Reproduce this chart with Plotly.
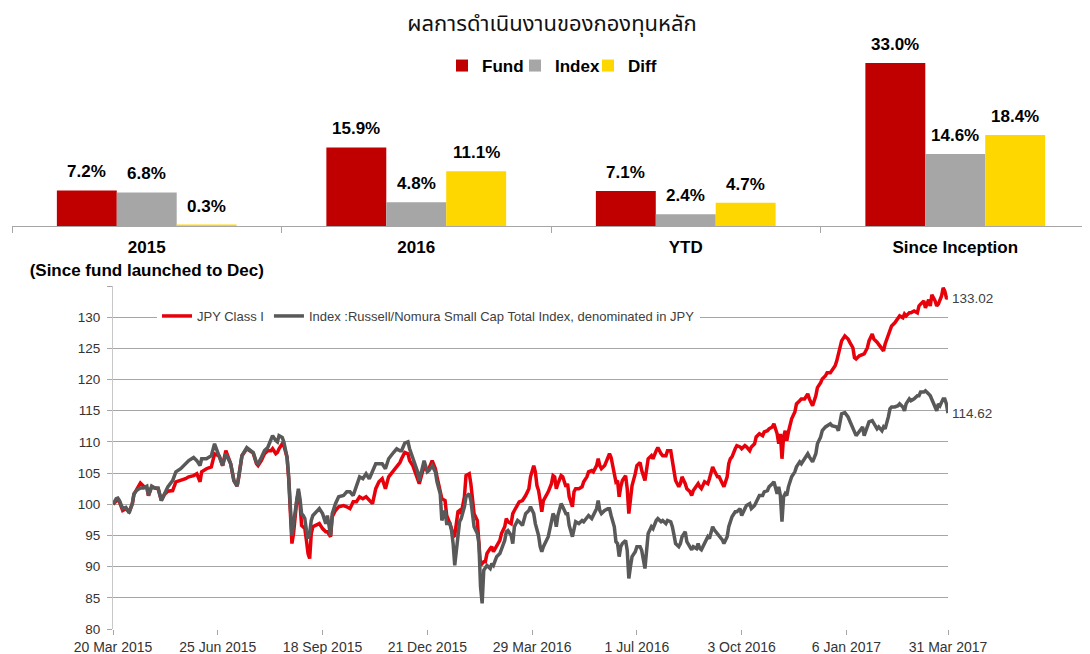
import plotly.graph_objects as go

# ---------------- bar chart data ----------------
periods = ["2015<br>(Since fund launched to Dec)", "2016", "YTD", "Since Inception"]
fund_ret = [7.2, 15.9, 7.1, 33.0]
index_ret = [6.8, 4.8, 2.4, 14.6]
diff_ret = [0.3, 11.1, 4.7, 18.4]

# ---------------- line chart data (trading-day index) ----------------
day = [0, 2, 3, 4, 6, 8, 10, 12, 13, 15, 17, 19, 21, 22, 24, 26, 28, 30, 32, 34,
       37, 39, 42, 45, 47, 50, 52, 54, 55, 58, 61, 63, 66, 68, 70, 73, 75, 77, 78, 80,
       83, 85, 87, 89, 90, 92, 94, 96, 98, 99, 101, 102, 103, 105, 106, 108, 109, 110, 111, 112,
       113, 114, 115, 116, 117, 118, 119, 120, 121, 122, 123, 124, 126, 128, 130, 132, 133, 135, 136, 138,
       140, 143, 145, 147, 149, 151, 153, 155, 157, 159, 161, 163, 165,
       167, 169, 171, 174, 176, 178, 179, 181, 183, 184, 186, 188, 189, 190, 192, 193, 195, 196, 198, 200,
       201, 203, 204, 206, 207, 209, 210, 211, 212, 214, 215, 216, 218, 219, 221, 222, 223, 224, 226, 227,
       228, 229, 230, 231, 232, 234, 235, 236, 238, 240, 241, 243, 244, 245, 247, 248, 249, 251, 252,
       254, 256, 258, 259, 261, 262, 263, 264, 265, 266, 267, 269, 270, 272, 273, 274, 275, 276, 277, 278,
       279, 281, 282, 283, 285, 286, 287, 289, 291, 292, 294, 295, 297, 298, 300, 301, 302, 303, 305, 307,
       308, 309, 311, 312, 313, 314, 315, 316, 318, 319, 320, 321, 322, 324, 325, 327, 328, 330, 331, 332,
       334, 335, 337, 338, 340,
       341, 343, 344, 346, 347, 348, 349, 351, 352, 353, 355, 356, 358, 359, 360, 362, 363, 364, 365, 367,
       369, 370, 372, 373, 375, 376, 378, 379, 381, 382, 383, 384, 386, 387, 389, 390, 392, 393, 395, 396,
       398, 399, 401, 403, 404, 406, 407, 409, 410, 412, 413, 414, 415, 416, 417, 418, 419, 421, 423, 424,
       426,
       427, 429, 431, 432, 434, 436, 437, 439, 440, 442, 443, 445, 446, 448, 449, 450, 451, 452, 454, 456,
       457, 459, 460, 461, 463, 465, 466, 468, 469, 471, 472, 474, 475, 477, 478, 479, 481, 482, 483, 485,
       487, 488, 490, 491, 492, 494, 495, 497, 499, 500, 501, 503, 504, 505, 506, 507, 508, 510, 511, 512,
       513, 514, 515, 516, 517, 518]

jpy_class_i = [
    100.0, 100.6, 100.8, 100.4, 99.0, 99.3, 98.8, 100.1, 101.6, 102.5, 103.4, 102.9, 102.6, 101.4, 102.8, 102.6, 102.5, 100.6, 101.6, 102.1,
    102.2, 103.6, 103.8, 104.1, 104.4, 104.6, 104.9, 103.6, 105.2, 105.7, 106.0, 108.1, 107.7, 106.2, 108.6, 106.5, 103.8, 102.9, 104.4, 107.8,
    108.9, 108.6, 108.2, 106.5, 106.2, 107.0, 108.1, 108.6, 108.6, 108.9, 108.1, 108.3, 108.9, 109.7, 109.4, 107.5, 104.1, 98.8, 93.7, 95.3,
    98.2, 100.6, 102.0, 100.1, 96.6, 96.4, 96.1, 94.2, 92.1, 91.3, 95.3, 96.4, 96.6, 96.9, 96.1, 95.6, 95.6, 94.8, 98.0, 99.0,
    99.6, 99.8, 99.6, 99.3, 100.4, 100.4, 101.2, 100.9, 101.2, 100.6, 100.1, 102.5, 103.6,
    104.1, 102.5, 104.4, 105.4, 106.2, 106.7, 107.3, 108.3, 108.1, 107.0, 106.2, 104.6, 104.1, 103.3, 105.2, 106.0, 105.4, 105.7, 107.0, 105.7,
    104.4, 102.2, 100.9, 100.6, 98.2, 96.9, 96.1, 94.8, 95.0, 98.8, 99.0, 98.5, 101.2, 104.6, 104.9, 103.3, 100.1, 98.5, 97.4, 94.2,
    90.2, 90.5, 90.8, 90.8, 92.1, 92.9, 93.2, 92.4, 93.4, 94.2, 95.3, 96.4, 97.7, 97.2, 96.9, 98.5, 99.0, 100.1, 100.4,
    100.6, 101.4, 102.5, 104.4, 106.2, 105.2, 103.0, 102.2, 100.6, 98.8, 100.6, 101.4, 102.0, 103.3, 104.6, 104.4, 102.5, 103.3, 103.8, 104.6,
    104.4, 102.8, 103.3, 101.2, 99.6, 102.0, 102.5, 102.5, 102.8, 103.6, 104.4, 105.2, 105.4, 105.2, 106.2, 107.3, 106.2, 105.7, 106.2, 107.3,
    108.1, 107.5, 104.9, 103.6, 103.8, 101.2, 102.8, 103.8, 104.6, 102.5, 98.5, 100.6, 103.0, 104.9, 106.2, 106.7, 105.4, 103.8, 105.4, 107.3,
    107.8, 107.3, 108.6, 109.1, 108.1,
    107.8, 107.8, 108.6, 108.6, 107.3, 105.4, 103.8, 102.8, 103.3, 104.4, 103.3, 102.5, 102.0, 101.4, 102.2, 103.0, 103.3, 102.8, 102.5, 103.6,
    103.3, 104.1, 106.0, 105.4, 104.4, 104.4, 103.3, 102.8, 104.4, 106.5, 107.3, 107.6, 108.9, 109.4, 109.2, 108.9, 109.4, 109.2, 108.6, 109.2,
    109.7, 110.8, 111.3, 111.0, 111.6, 111.8, 112.1, 112.4, 112.9, 111.3, 109.7, 111.3, 107.3, 110.8, 111.8, 110.2, 111.6, 113.7, 114.8, 116.1,
    116.6,
    116.9, 116.9, 117.7, 116.9, 115.8, 117.4, 118.7, 119.5, 120.1, 120.6, 121.1, 121.1, 121.4, 122.2, 123.0, 124.3, 125.4, 126.2, 127.0, 126.5,
    126.0, 125.1, 123.5, 123.3, 123.8, 124.1, 124.1, 125.1, 126.2, 127.3, 126.5, 126.0, 125.7, 125.1, 124.6, 125.7, 127.3, 128.1, 128.6, 129.1,
    129.7, 130.2, 129.9, 130.5, 130.2, 130.7, 130.7, 131.0, 130.7, 131.8, 132.1, 132.6, 131.5, 132.1, 132.8, 131.8, 133.6, 132.6, 131.8, 132.1,
    132.8, 133.4, 134.7, 134.2, 133.1, 133.02]

russell_nomura = [
    100.0, 100.9, 101.0, 100.6, 99.3, 99.5, 98.6, 100.1, 101.7, 102.3, 102.6, 102.6, 102.9, 101.4, 102.9, 102.6, 102.6, 100.6, 101.7, 102.8,
    103.8, 105.2, 105.7, 106.5, 107.0, 107.5, 107.0, 106.2, 107.3, 107.3, 107.8, 109.7, 107.8, 106.2, 108.1, 106.5, 103.8, 102.9, 104.4, 107.8,
    109.1, 108.7, 108.3, 106.7, 106.5, 107.5, 108.6, 109.1, 110.2, 111.0, 110.2, 110.0, 111.0, 110.7, 110.0, 107.5, 104.4, 99.0, 95.0, 96.9,
    99.0, 101.4, 102.5, 100.9, 98.5, 98.2, 97.7, 95.8, 94.5, 95.3, 97.4, 98.2, 98.8, 99.3, 98.5, 96.9, 98.2, 95.0, 98.5, 100.1,
    101.2, 101.4, 102.0, 102.0, 101.4, 103.0, 104.4, 104.1, 104.9, 104.1, 105.2, 106.5, 106.5,
    106.5, 105.7, 107.3, 108.3, 108.9, 108.6, 108.6, 109.8, 110.0, 108.9, 107.3, 105.7, 105.2, 103.8, 105.7, 107.0, 105.2, 105.4, 106.2, 105.2,
    103.6, 101.7, 97.4, 99.0, 96.9, 96.9, 95.8, 93.7, 90.2, 95.3, 97.2, 97.7, 99.6, 101.2, 101.7, 100.6, 98.5, 96.4, 95.3, 93.7,
    86.8, 84.1, 89.4, 89.7, 90.2, 89.7, 90.5, 90.2, 91.6, 92.1, 92.9, 94.2, 95.6, 95.8, 95.0, 93.7, 96.4, 97.4, 97.2,
    96.6, 98.5, 99.0, 99.6, 98.5, 96.9, 95.8, 95.0, 93.2, 92.4, 93.2, 94.2, 94.8, 97.2, 98.5, 98.0, 96.4, 98.2, 99.0, 100.1,
    99.6, 98.5, 98.5, 96.6, 94.8, 96.4, 97.2, 96.9, 97.4, 97.2, 98.0, 98.2, 97.7, 98.2, 99.3, 100.6, 99.0, 98.5, 99.0, 99.3,
    99.3, 98.2, 96.4, 94.0, 93.7, 91.6, 93.2, 93.7, 94.2, 92.6, 88.1, 90.0, 91.6, 92.4, 93.2, 93.2, 92.6, 89.7, 92.6, 95.3,
    96.4, 96.1, 97.4, 97.7, 97.2,
    97.4, 96.9, 97.4, 97.2, 96.4, 95.1, 93.7, 93.2, 93.7, 94.8, 95.6, 94.0, 93.2, 92.7, 93.2, 92.9, 93.7, 92.9, 92.7, 93.7,
    94.8, 94.5, 96.4, 95.9, 95.3, 95.1, 94.3, 93.7, 94.8, 96.4, 97.4, 98.0, 98.8, 98.8, 99.3, 98.2, 99.3, 99.8, 100.1, 99.3,
    99.8, 100.4, 101.4, 101.4, 102.0, 102.2, 102.8, 103.3, 103.6, 101.7, 102.8, 101.4, 97.2, 101.2, 101.7, 101.4, 102.8, 104.4, 105.2, 106.0,
    106.8,
    106.5, 107.3, 108.1, 107.6, 106.8, 108.1, 109.7, 110.8, 111.8, 112.4, 112.6, 112.9, 112.6, 112.4, 112.4, 111.8, 112.9, 114.5, 114.7, 114.0,
    113.4, 112.4, 111.6, 111.0, 111.6, 112.4, 111.0, 112.4, 113.2, 113.4, 112.9, 112.1, 112.4, 111.8, 112.4, 112.1, 114.0, 115.3, 115.6, 115.6,
    115.8, 116.1, 115.6, 115.0, 116.1, 116.9, 116.6, 116.9, 117.4, 117.4, 118.0, 118.0, 118.2, 118.0, 117.7, 117.4, 116.9, 115.6, 115.0, 116.1,
    115.8, 116.4, 116.9, 116.9, 116.1, 114.62]

tick_days = [0, 65, 130, 195, 260, 325, 390, 455, 518]
tick_labels = ["20 Mar 2015", "25 Jun 2015", "18 Sep 2015", "21 Dec 2015", "29 Mar 2016",
               "1 Jul 2016", "3 Oct 2016", "6 Jan 2017", "31 Mar 2017"]
y_ticks = [80, 85, 90, 95, 100, 105, 110, 115, 120, 125, 130, 135]

# ---------------- figure ----------------
PAGE_OFF = 8                      # default body margin of the html page
W, H = 1090 - PAGE_OFF, 654 - PAGE_OFF
FONT = "Arial, Liberation Sans, sans-serif"
BARGAP = 0.333


def px(p):
    """page pixel -> paper x"""
    return (p - PAGE_OFF) / W


def py(p):
    """page pixel -> paper y"""
    return 1 - (p - PAGE_OFF) / H


cat_pos = list(range(len(periods)))
cat_bounds = [c - 0.5 for c in cat_pos] + [cat_pos[-1] + 0.5]

fig = go.Figure()

bar_series = [("Fund", fund_ret, "#C00000"),
              ("Index", index_ret, "#A6A6A6"),
              ("Diff", diff_ret, "#FFD700")]
for name, vals, col in bar_series:
    fig.add_trace(go.Bar(x=cat_pos, y=vals, name=name, marker=dict(color=col, line=dict(width=0)),
                         xaxis="x", yaxis="y", legend="legend", hoverinfo="skip"))

fig.add_trace(go.Scatter(x=day, y=jpy_class_i, mode="lines", name="JPY Class I",
                         line=dict(color="#E8000B", width=3.5), xaxis="x2", yaxis="y2",
                         legend="legend2", hoverinfo="skip"))
fig.add_trace(go.Scatter(x=day, y=russell_nomura, mode="lines",
                         name="Index :Russell/Nomura Small Cap Total Index, denominated in JPY",
                         line=dict(color="#595959", width=3.5), xaxis="x2", yaxis="y2",
                         legend="legend2", hoverinfo="skip"))

annotations = []
bar_w = (1 - BARGAP) / 3  # width of one bar in category units
for j, (name, vals, col) in enumerate(bar_series):
    for i, v in enumerate(vals):
        annotations.append(dict(x=cat_pos[i] + (j - 1) * bar_w, y=v, xref="x", yref="y",
                                text=f"{v:.1f}%", showarrow=False, yanchor="bottom", yshift=7,
                                font=dict(family=FONT, size=17, weight="bold", color="#000")))

for series in (jpy_class_i, russell_nomura):
    annotations.append(dict(x=day[-1], y=series[-1], xref="x2", yref="y2",
                            text=f"{series[-1]:.2f}", showarrow=False, xanchor="left", xshift=2,
                            font=dict(family=FONT, size=13.5, color="#404040")))

fig.update_layout(
    width=W, height=H, autosize=False,
    margin=dict(l=0, r=0, t=0, b=0, autoexpand=False),
    paper_bgcolor="white", plot_bgcolor="white",
    hovermode=False,
    title=dict(text="ผลการดำเนินงานของกองทุนหลัก", x=px(552), xanchor="center",
               y=py(23), yanchor="middle", xref="paper", yref="paper",
               font=dict(family="Noto Sans Thai, Tahoma, Loma, Garuda, Noto Sans, sans-serif",
                         size=22, color="#111")),
    barmode="group", bargap=BARGAP, bargroupgap=0,
    xaxis=dict(domain=[px(12), px(1090)], range=[-0.5, len(periods) - 0.5], anchor="y",
               automargin=False, showgrid=False, zeroline=False,
               showline=True, linecolor="#A6A6A6", linewidth=1,
               tickmode="array", tickvals=cat_pos, ticktext=periods, ticks="", tickangle=0,
               ticklabelstandoff=6,
               minor=dict(tickmode="array", tickvals=cat_bounds, ticks="outside", ticklen=6,
                          tickcolor="#A6A6A6", showgrid=False),
               tickfont=dict(family=FONT, size=17, weight="bold", color="#000")),
    yaxis=dict(domain=[py(226), py(28.4)], range=[0, 40], visible=False, anchor="x",
               automargin=False),
    xaxis2=dict(domain=[px(113), px(948)], range=[0, 518], anchor="y2", automargin=False,
                tickmode="array", tickvals=tick_days, ticktext=tick_labels,
                showgrid=False, zeroline=False, showline=False,
                ticks="outside", ticklen=5, tickcolor="#A6A6A6",
                tickfont=dict(family=FONT, size=14, color="#333")),
    yaxis2=dict(domain=[py(629), py(286)], range=[80, 135], anchor="x2", automargin=False,
                tickmode="array", tickvals=y_ticks,
                ticktext=[str(v) if v < 135 else "" for v in y_ticks],
                showgrid=True, gridcolor="#A6A6A6", gridwidth=1, zeroline=False,
                showline=True, linecolor="#C8C8C8", linewidth=1,
                ticks="outside", ticklen=5, tickcolor="#A6A6A6", ticklabelstandoff=4,
                tickfont=dict(family=FONT, size=13.5, color="#333")),
    legend=dict(orientation="h", x=px(442), xanchor="left", y=py(66), yanchor="middle",
                bgcolor="rgba(0,0,0,0)", itemwidth=30, traceorder="normal",
                entrywidth=28, entrywidthmode="pixels",
                font=dict(family=FONT, size=17, weight="bold", color="#000")),
    legend2=dict(orientation="h", x=px(157), xanchor="left", y=py(316), yanchor="middle",
                 bgcolor="white", traceorder="normal",
                 font=dict(family=FONT, size=13, color="#404040")),
    annotations=annotations,
)

fig.write_html("out.html")
